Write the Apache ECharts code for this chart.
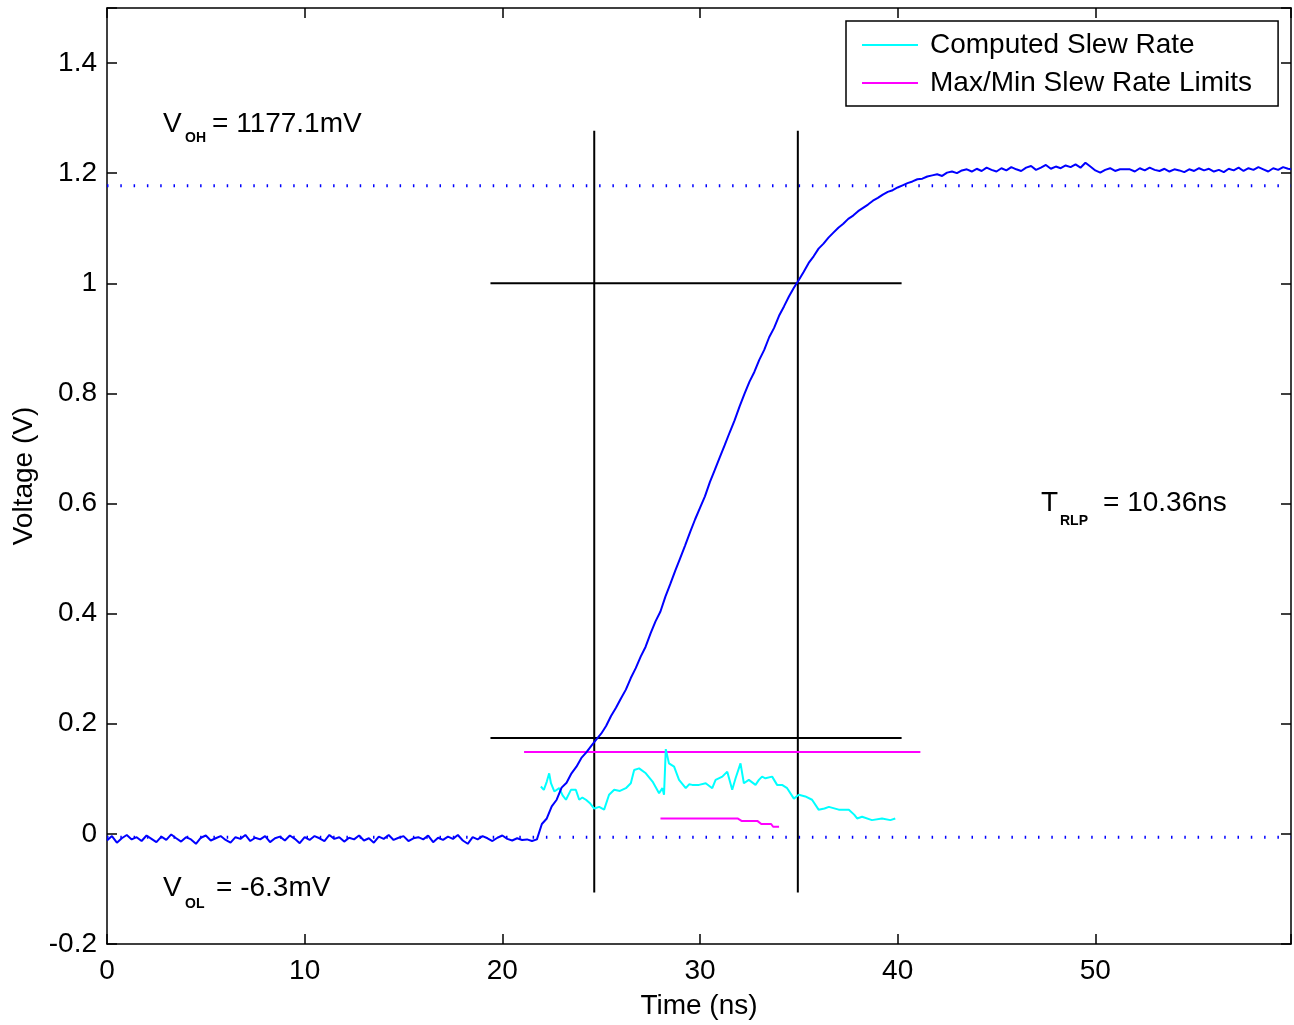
<!DOCTYPE html>
<html>
<head>
<meta charset="utf-8">
<script src="https://cdn.jsdelivr.net/npm/echarts@6/dist/echarts.min.js"></script>
<style>
html,body{margin:0;padding:0;background:#fff;}
#chart{width:1294px;height:1025px;}
</style>
</head>
<body>
<div id="chart"></div>
<script>
// ---------- DATA ----------
const xTicks = [0, 10, 20, 30, 40, 50];
const yTicks = [-0.2, 0, 0.2, 0.4, 0.6, 0.8, 1, 1.2, 1.4];

const VOH = 1.1771;   // 1177.1 mV
const VOL = -0.0063;  // -6.3 mV
const timeRange = [0, 59.9];

// measured waveform [time ns, voltage V]
const waveform = [
[0,-0.012],[0.25,-0.004],[0.5,-0.016],[0.75,-0.008],[1,-0.002],[1.25,-0.010],[1.5,-0.006],[1.75,-0.013],[2,-0.003],[2.25,-0.009],
[2.5,-0.015],[2.75,-0.005],[3,-0.011],[3.25,-0.001],[3.5,-0.008],[3.75,-0.014],[4,-0.006],[4.25,-0.010],[4.5,-0.018],[4.75,-0.007],
[5,-0.003],[5.25,-0.012],[5.5,-0.008],[5.75,-0.004],[6,-0.011],[6.25,-0.016],[6.5,-0.006],[6.75,-0.009],[7,-0.002],[7.25,-0.013],
[7.5,-0.007],[7.75,-0.010],[8,-0.004],[8.25,-0.015],[8.5,-0.008],[8.75,-0.005],[9,-0.012],[9.25,-0.003],[9.5,-0.009],[9.75,-0.017],
[10,-0.006],[10.25,-0.011],[10.5,-0.004],[10.75,-0.008],[11,-0.013],[11.25,-0.002],[11.5,-0.009],[11.75,-0.006],[12,-0.014],[12.25,-0.007],
[12.5,-0.010],[12.75,-0.003],[13,-0.012],[13.25,-0.008],[13.5,-0.016],[13.75,-0.005],[14,-0.009],[14.25,-0.002],[14.5,-0.011],[14.75,-0.007],
[15,-0.004],[15.25,-0.013],[15.5,-0.008],[15.75,-0.006],[16,-0.010],[16.25,-0.003],[16.5,-0.015],[16.75,-0.007],[17,-0.011],[17.25,-0.005],
[17.5,-0.009],[17.75,-0.002],[18,-0.012],[18.25,-0.018],[18.5,-0.006],[18.75,-0.010],[19,-0.004],[19.25,-0.008],[19.5,-0.013],[19.75,-0.007],
[20,-0.003],[20.25,-0.009],[20.5,-0.012],[20.75,-0.008],[21,-0.011],[21.25,-0.010],[21.5,-0.013],[21.75,-0.010],
[22,0.018],[22.25,0.028],[22.5,0.050],[22.75,0.062],[23,0.084],[23.25,0.093],[23.5,0.110],[23.75,0.122],[24,0.138],[24.25,0.148],
[24.5,0.160],[24.75,0.171],[25,0.182],[25.25,0.196],[25.5,0.214],[25.75,0.229],[26,0.246],[26.25,0.262],[26.5,0.283],[26.75,0.301],
[27,0.322],[27.25,0.340],[27.5,0.364],[27.75,0.386],[28,0.404],[28.25,0.431],[28.5,0.454],[28.75,0.478],[29,0.501],[29.25,0.524],
[29.5,0.548],[29.75,0.571],[30,0.592],[30.25,0.613],[30.5,0.639],[30.75,0.661],[31,0.684],[31.25,0.706],[31.5,0.729],[31.75,0.751],
[32,0.776],[32.25,0.799],[32.5,0.821],[32.75,0.839],[33,0.861],[33.25,0.879],[33.5,0.902],[33.75,0.919],[34,0.941],[34.25,0.958],
[34.5,0.976],[34.75,0.992],[35,1.006],[35.25,1.021],[35.5,1.037],[35.75,1.049],[36,1.063],[36.25,1.072],[36.5,1.083],[36.75,1.092],
[37,1.101],[37.25,1.108],[37.5,1.117],[37.75,1.123],[38,1.131],[38.25,1.137],[38.5,1.143],[38.75,1.150],[39,1.155],[39.25,1.161],
[39.5,1.166],[39.75,1.169],[40,1.174],[40.25,1.178],[40.5,1.182],[40.75,1.185],[41,1.189],[41.25,1.190],[41.5,1.194],[41.75,1.196],
[42,1.198],[42.25,1.195],[42.5,1.201],[42.75,1.203],[43,1.200],[43.25,1.205],[43.5,1.207],[43.75,1.203],[44,1.208],[44.25,1.204],
[44.5,1.210],[44.75,1.206],[45,1.203],[45.25,1.209],[45.5,1.205],[45.75,1.211],[46,1.207],[46.25,1.204],[46.5,1.210],[46.75,1.213],
[47,1.206],[47.25,1.210],[47.5,1.215],[47.75,1.208],[48,1.212],[48.25,1.209],[48.5,1.214],[48.75,1.211],[49,1.216],[49.25,1.210],
[49.5,1.219],[49.75,1.212],[50,1.205],[50.25,1.201],[50.5,1.206],[50.75,1.209],[51,1.204],[51.25,1.207],[51.5,1.207],[51.75,1.207],
[52,1.203],[52.25,1.209],[52.5,1.205],[52.75,1.210],[53,1.206],[53.25,1.204],[53.5,1.208],[53.75,1.203],[54,1.207],[54.25,1.205],
[54.5,1.202],[54.75,1.207],[55,1.204],[55.25,1.209],[55.5,1.205],[55.75,1.208],[56,1.203],[56.25,1.206],[56.5,1.202],[56.75,1.208],
[57,1.205],[57.25,1.210],[57.5,1.204],[57.75,1.209],[58,1.206],[58.25,1.211],[58.5,1.207],[58.75,1.203],[59,1.209],[59.25,1.206],
[59.5,1.211],[59.75,1.208],[59.9,1.207]
];

// computed slew rate (scaled onto voltage axis)
const slewRate = [
[21.95,0.086],[22.1,0.080],[22.25,0.095],[22.37,0.110],[22.46,0.092],[22.63,0.077],[22.88,0.083],[23.05,0.070],[23.22,0.062],[23.47,0.080],
[23.72,0.080],[23.89,0.062],[24.05,0.066],[24.23,0.062],[24.45,0.055],[24.65,0.046],[24.9,0.049],[25.15,0.044],[25.4,0.071],[25.66,0.080],
[25.95,0.078],[26.25,0.083],[26.5,0.092],[26.67,0.116],[26.92,0.119],[27.26,0.110],[27.6,0.095],[27.93,0.074],[28.1,0.083],[28.18,0.071],
[28.27,0.154],[28.43,0.128],[28.69,0.122],[28.94,0.098],[29.28,0.083],[29.45,0.090],[29.61,0.089],[29.95,0.089],[30.29,0.092],[30.62,0.083],
[30.79,0.098],[31.13,0.104],[31.38,0.113],[31.63,0.080],[31.8,0.101],[32.05,0.128],[32.22,0.092],[32.47,0.098],[32.81,0.089],[32.98,0.098],
[33.14,0.104],[33.31,0.101],[33.65,0.104],[33.9,0.089],[34.15,0.089],[34.41,0.083],[34.75,0.064],[35.0,0.071],[35.33,0.068],[35.67,0.062],
[36.0,0.044],[36.3,0.046],[36.52,0.049],[37.02,0.044],[37.53,0.044],[37.8,0.035],[37.95,0.028],[38.2,0.031],[38.7,0.025],[39.21,0.028],
[39.63,0.025],[39.88,0.028]
];

// max/min slew rate limits
const slewMax = [[21.1,0.1485],[41.15,0.1485]];
const slewMin = [[28.0,0.028],[31.9,0.028],[32.1,0.0236],[32.9,0.0236],[33.1,0.018],[33.6,0.018],[33.7,0.013],[34.0,0.013]];

// measurement markers
const tCross1 = 24.65, tCross2 = 34.95;
const vLow = 0.174, vHigh = 1.0;
const markerV = [-0.1063, 1.2771];
const markerH = [19.4, 40.2];

// annotation text
const labels = {
  voh: ['V', 'OH', '= 1177.1mV'],
  vol: ['V', 'OL', '= -6.3mV'],
  trlp: ['T', 'RLP', '= 10.36ns']
};

// ---------- CHART ----------
const FONT = 'Liberation Sans';
const chart = echarts.init(document.getElementById('chart'), null, {renderer: 'canvas'});

const fmt = v => (yTicks.concat(xTicks).some(t => Math.abs(t - v) < 1e-6)) ? String(Math.round(v * 10) / 10) : '';

const axisCommon = {
  axisLine: {show: true, onZero: false, lineStyle: {color: '#000', width: 1.5}},
  axisTick: {show: true, inside: true, length: 10, lineStyle: {color: '#000', width: 1.5}},
  splitLine: {show: false}
};

function lineSeries(name, data, color, width, z, type) {
  return {
    name: name, type: 'line', data: data, symbol: 'none', showSymbol: false, z: z,
    lineStyle: {color: color, width: width, type: type || 'solid'},
    itemStyle: {color: color},
    emphasis: {disabled: true}, silent: true, animation: false
  };
}

function subText(parts, x, y, subDx, subDy, restDx) {
  return [
    {type: 'text', left: x, top: y, style: {text: parts[0], font: '28px "' + FONT + '"', fill: '#000'}},
    {type: 'text', left: x + subDx, top: y + subDy, style: {text: parts[1], font: 'bold 14px "' + FONT + '"', fill: '#000'}},
    {type: 'text', left: x + restDx, top: y, style: {text: parts[2], font: '28px "' + FONT + '"', fill: '#000'}}
  ];
}

const option = {
  animation: false,
  backgroundColor: '#fff',
  textStyle: {fontFamily: FONT},
  grid: {left: 107, right: 2, top: 8, bottom: 81, containLabel: false},
  legend: {
    show: true,
    data: [
      {name: 'Computed Slew Rate', icon: 'rect', itemStyle: {color: '#00ffff'}},
      {name: 'Max/Min Slew Rate Limits', icon: 'rect', itemStyle: {color: '#ff00ff'}}
    ],
    orient: 'vertical',
    left: 846, top: 21,
    padding: [10, 26, 9, 16],
    itemGap: 10,
    itemWidth: 56, itemHeight: 2,
    backgroundColor: '#fff',
    borderColor: '#000', borderWidth: 1.5,
    textStyle: {fontSize: 28, color: '#000', fontFamily: FONT, padding: [0, 0, 0, 7], lineHeight: 28},
    selectedMode: false
  },
  xAxis: [
    Object.assign({}, axisCommon, {
      type: 'value', min: timeRange[0], max: timeRange[1], interval: 10, position: 'bottom',
      name: 'Time (ns)', nameLocation: 'middle', nameGap: 48,
      nameTextStyle: {fontSize: 28, color: '#000', fontFamily: FONT},
      axisLabel: {color: '#000', fontSize: 28, fontFamily: FONT, margin: 13, formatter: fmt}
    }),
    Object.assign({}, axisCommon, {
      type: 'value', min: timeRange[0], max: timeRange[1], interval: 10, position: 'top',
      axisLabel: {show: false}
    })
  ],
  yAxis: [
    Object.assign({}, axisCommon, {
      type: 'value', min: -0.2, max: 1.5, interval: 0.2, position: 'left',
      name: 'Voltage (V)', nameLocation: 'middle', nameGap: 66, nameRotate: 90,
      nameTextStyle: {fontSize: 28, color: '#000', fontFamily: FONT},
      axisLabel: {color: '#000', fontSize: 28, fontFamily: FONT, margin: 10, formatter: fmt}
    }),
    Object.assign({}, axisCommon, {
      type: 'value', min: -0.2, max: 1.5, interval: 0.2, position: 'right',
      axisLabel: {show: false}
    })
  ],
  series: [
    lineSeries('VOH', [[timeRange[0], VOH], [timeRange[1], VOH]], '#0000ff', 3, 2, [1.5, 11.8]),
    lineSeries('VOL', [[timeRange[0], VOL], [timeRange[1], VOL]], '#0000ff', 3, 2, [1.5, 11.8]),
    lineSeries('t1', [[tCross1, markerV[0]], [tCross1, markerV[1]]], '#000', 2, 3),
    lineSeries('t2', [[tCross2, markerV[0]], [tCross2, markerV[1]]], '#000', 2, 3),
    lineSeries('vl', [[markerH[0], vLow], [markerH[1], vLow]], '#000', 2, 3),
    lineSeries('vh', [[markerH[0], vHigh], [markerH[1], vHigh]], '#000', 2, 3),
    lineSeries('Max/Min Slew Rate Limits', slewMax, '#ff00ff', 2, 4),
    lineSeries('Max/Min Slew Rate Limits', slewMin, '#ff00ff', 2, 4),
    lineSeries('Computed Slew Rate', slewRate, '#00ffff', 2, 5),
    lineSeries('Waveform', waveform, '#0000ff', 2, 6)
  ],
  graphic: [].concat(
    subText(labels.voh, 163, 110, 22, 131 - 110, 49),
    subText(labels.vol, 163, 874, 22, 897 - 874, 53),
    subText(labels.trlp, 1041, 489, 19, 514 - 489, 62)
  )
};
chart.setOption(option);
</script>
</body>
</html>
